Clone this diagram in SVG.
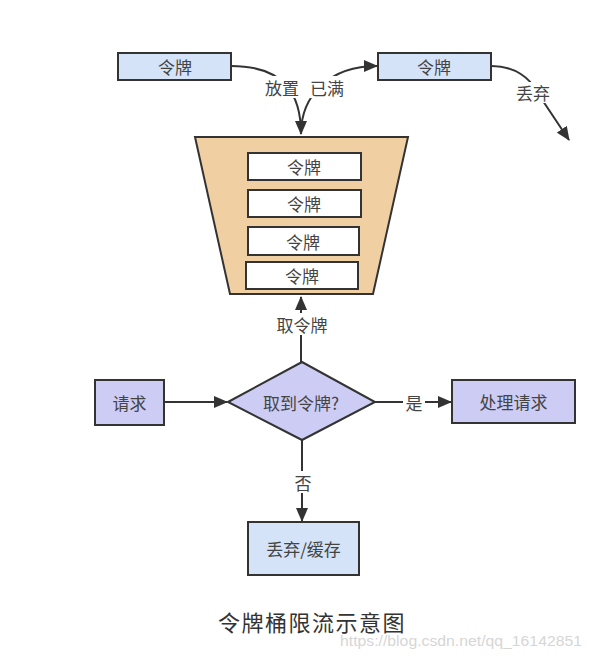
<svg xmlns="http://www.w3.org/2000/svg" width="591" height="656" viewBox="0 0 591 656">
<defs>
<marker id="arr" markerUnits="userSpaceOnUse" markerWidth="14" markerHeight="12" refX="13" refY="6" orient="auto">
<path d="M0,0 L14,6 L0,12 Z" fill="#333"/>
</marker>
<style>
.box{stroke:#333;stroke-width:2}
.blue{fill:#d4e3f8}
.lav{fill:#ccccf5}
.tok{fill:#ffffff;stroke:#333;stroke-width:2}
.t{font-family:"Noto Sans CJK SC","Noto Sans",sans-serif;font-size:17px;fill:#444;text-anchor:middle;dominant-baseline:central}
.edge{fill:none;stroke:#333;stroke-width:2}
.lb{fill:#ffffff}
</style>
</defs>
<rect width="591" height="656" fill="#ffffff"/>

<g id="connectors">
<path class="edge" d="M231,66 C285,66 301,95 301,134" marker-end="url(#arr)"/>
<path class="edge" d="M301,134 C301,95 330,66 377,66" marker-end="url(#arr)"/>
<path class="edge" d="M491,66 C515,66 530,78 537,92 L569,140" marker-end="url(#arr)"/>
<path class="edge" d="M301,363 L301,297" marker-end="url(#arr)"/>
<path class="edge" d="M164,402 L227,402" marker-end="url(#arr)"/>
<path class="edge" d="M375,402 L451,402" marker-end="url(#arr)"/>
<path class="edge" d="M302,440 L302,521" marker-end="url(#arr)"/>
<rect class="lb" x="264" y="76" width="36" height="22"/>
<rect class="lb" x="308" y="76" width="38" height="22"/>
<rect class="lb" x="516" y="82" width="35" height="21"/>
<rect class="lb" x="274" y="313" width="56" height="22"/>
<rect class="lb" x="403" y="392" width="22" height="21"/>
<rect class="lb" x="292" y="471" width="22" height="22"/>
<text class="t" x="282" y="87">放置</text>
<text class="t" x="327" y="87">已满</text>
<text class="t" x="533" y="92">丢弃</text>
<text class="t" x="302" y="324">取令牌</text>
<text class="t" x="414" y="402">是</text>
<text class="t" x="303" y="482">否</text>
</g>

<g id="token-in">
<rect class="box blue" x="118" y="53" width="113" height="27"/>
<text class="t" x="175" y="66.5">令牌</text>
</g>

<g id="token-out">
<rect class="box blue" x="378" y="53" width="113" height="27"/>
<text class="t" x="434" y="66.5">令牌</text>
</g>

<g id="bucket">
<path d="M195,137 L408,137 L373,294 L230,294 Z" fill="#f0cfa3" stroke="#333" stroke-width="2"/>
</g>

<g id="bucket-token-1">
<rect class="tok" x="248" y="153" width="113" height="27"/>
<text class="t" x="304" y="166.5">令牌</text>
</g>
<g id="bucket-token-2">
<rect class="tok" x="248" y="190" width="113" height="27"/>
<text class="t" x="304" y="203.5">令牌</text>
</g>
<g id="bucket-token-3">
<rect class="tok" x="248" y="227" width="111" height="28"/>
<text class="t" x="303" y="241">令牌</text>
</g>
<g id="bucket-token-4">
<rect class="tok" x="246" y="262" width="112" height="27"/>
<text class="t" x="302" y="275.5">令牌</text>
</g>

<g id="request">
<rect class="box lav" x="95" y="380" width="69" height="45"/>
<text class="t" x="129.5" y="402.5">请求</text>
</g>

<g id="decision">
<path d="M228,402 L302,362 L375,402 L302,440 Z" class="box lav"/>
<text class="t" x="301" y="402">取到令牌?</text>
</g>

<g id="process">
<rect class="box lav" x="452" y="380" width="123" height="43"/>
<text class="t" x="513.5" y="401.5">处理请求</text>
</g>

<g id="drop">
<rect class="box blue" x="248" y="522" width="111" height="53"/>
<text class="t" x="303.5" y="548.5">丢弃/缓存</text>
</g>

<text x="312" y="621" font-family="'Noto Sans CJK SC',sans-serif" font-size="22" fill="#333" text-anchor="middle" dominant-baseline="central" letter-spacing="1.5">令牌桶限流示意图</text>
<text x="340" y="646" font-family="'Liberation Sans',Arial,sans-serif" font-size="14" fill="#d6d6d6" textLength="242" lengthAdjust="spacingAndGlyphs">https://blog.csdn.net/qq_16142851</text>
</svg>
